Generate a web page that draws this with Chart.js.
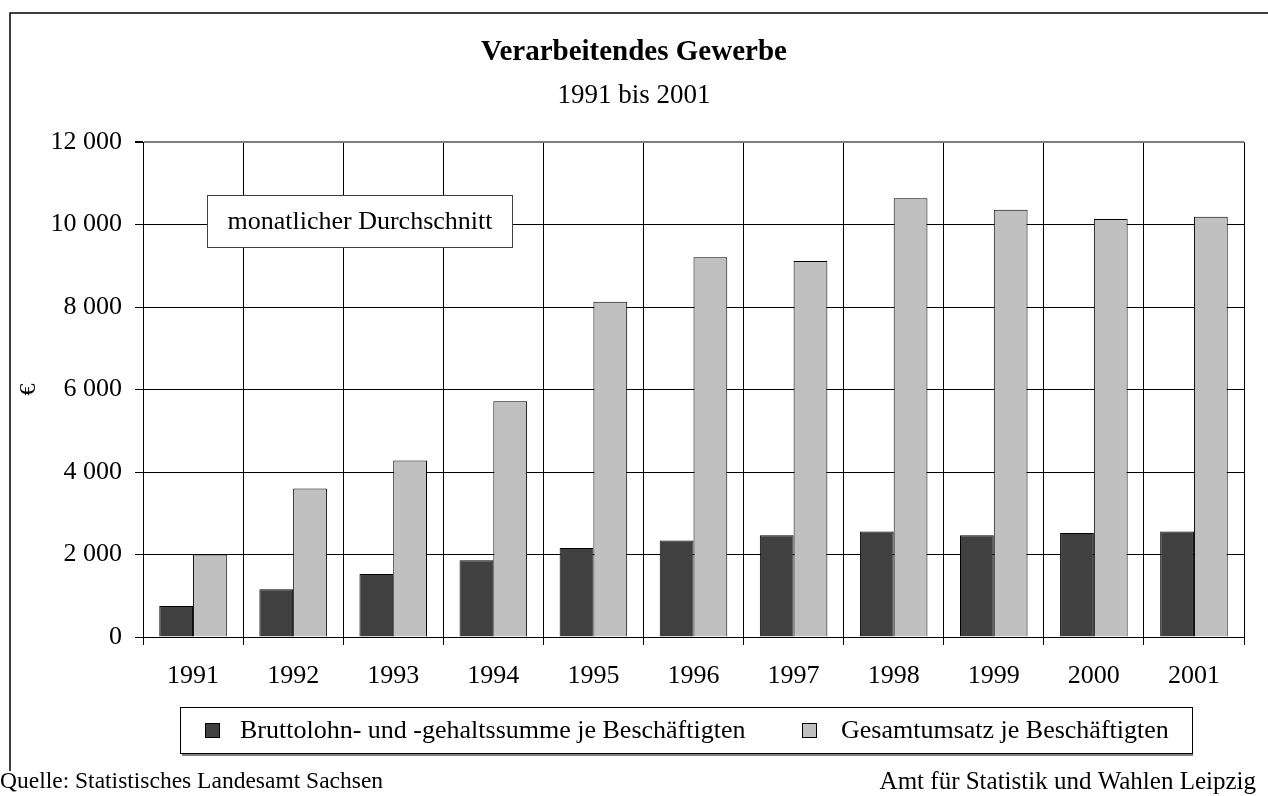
<!DOCTYPE html>
<html>
<head>
<meta charset="utf-8">
<script src="https://cdn.jsdelivr.net/npm/chart.js@4/dist/chart.umd.min.js"></script>
<style>
  html, body { margin: 0; padding: 0; background: #fff; }
  #wrap { width: 1268px; height: 796px; }
</style>
</head>
<body>
<div id="wrap"><canvas id="chart" width="1268" height="796"></canvas></div>
<script>
// Werte (Euro, monatlicher Durchschnitt)
const years = ['1991', '1992', '1993', '1994', '1995', '1996', '1997', '1998', '1999', '2000', '2001'];
const bruttolohn = [750, 1160, 1530, 1860, 2160, 2340, 2470, 2560, 2470, 2520, 2560];
const umsatz = [2000, 3600, 4280, 5720, 8130, 9210, 9120, 10640, 10360, 10140, 10190];
const yTicks = [0, 2000, 4000, 6000, 8000, 10000, 12000];

const serif = "'Liberation Serif', 'Times New Roman', serif";

function fmt(v) {
    return String(v).replace(/\B(?=(\d{3})+(?!\d))/g, ' ');
}

// Rahmen, Textfeld, Legende und Quellenzeile
const extras = {
    id: 'extras',
    afterDraw(chart) {
        const ctx = chart.ctx;
        ctx.save();

        // äußerer Rahmen (rechts und unten abgeschnitten)
        ctx.strokeStyle = '#000';
        ctx.lineWidth = 1.5;
        ctx.beginPath();
        ctx.moveTo(10, 771);
        ctx.lineTo(10, 13);
        ctx.lineTo(1268, 13);
        ctx.stroke();

        // Textfeld im Diagramm
        ctx.fillStyle = '#fff';
        ctx.fillRect(207, 195, 305, 52);
        ctx.strokeStyle = '#404040';
        ctx.lineWidth = 1;
        ctx.strokeRect(207.5, 195.5, 305, 52);
        ctx.fillStyle = '#000';
        ctx.font = '26px ' + serif;
        ctx.textAlign = 'center';
        ctx.textBaseline = 'middle';
        ctx.fillText('monatlicher Durchschnitt', 360, 222);

        // Legende
        ctx.fillStyle = '#808080';
        ctx.fillRect(182, 753, 1011, 3);
        ctx.fillStyle = '#fff';
        ctx.fillRect(180, 707, 1012, 46);
        ctx.strokeStyle = '#000';
        ctx.strokeRect(180.5, 707.5, 1012, 46);
        const items = [
            { x: 205, tx: 240 },
            { x: 802, tx: 841 }
        ];
        chart.data.datasets.forEach((ds, i) => {
            const it = items[i];
            ctx.fillStyle = ds.backgroundColor;
            ctx.fillRect(it.x, 723, 14, 14);
            ctx.strokeStyle = '#000';
            ctx.strokeRect(it.x + 0.5, 723.5, 14, 14);
            ctx.fillStyle = '#000';
            ctx.textAlign = 'left';
            ctx.fillText(ds.label, it.tx, 731);
        });

        // Quellenzeile
        ctx.font = '23.5px ' + serif;
        ctx.textAlign = 'left';
        ctx.fillText('Quelle: Statistisches Landesamt Sachsen', 0, 782);
        ctx.font = '25px ' + serif;
        ctx.textAlign = 'right';
        ctx.fillText('Amt für Statistik und Wahlen Leipzig', 1256, 782);

        ctx.restore();
    }
};

new Chart(document.getElementById('chart'), {
    type: 'bar',
    data: {
        labels: years,
        datasets: [
            {
                label: 'Bruttolohn- und -gehaltssumme je Beschäftigten',
                data: bruttolohn,
                backgroundColor: '#404040',
                borderColor: '#000',
                borderWidth: 1
            },
            {
                label: 'Gesamtumsatz je Beschäftigten',
                data: umsatz,
                backgroundColor: '#c0c0c0',
                borderColor: '#000',
                borderWidth: 1
            }
        ]
    },
    options: {
        responsive: false,
        animation: false,
        devicePixelRatio: 1,
        layout: { padding: { left: 0, right: 0, top: 0, bottom: 104 } },
        datasets: {
            bar: { categoryPercentage: 0.675, barPercentage: 1.0 }
        },
        plugins: {
            legend: { display: false },
            tooltip: { enabled: false },
            title: {
                display: true,
                text: 'Verarbeitendes Gewerbe',
                color: '#000',
                font: { family: serif, size: 29, weight: 'bold' },
                padding: { top: 35, bottom: 10 }
            },
            subtitle: {
                display: true,
                text: '1991 bis 2001',
                color: '#000',
                font: { family: serif, size: 27 },
                padding: { top: 0, bottom: 30 }
            }
        },
        scales: {
            x: {
                grid: {
                    offset: true,
                    color: c => c.index === years.length ? '#808080' : '#000',
                    lineWidth: c => c.index === years.length ? 2 : 1,
                    tickColor: '#000',
                    tickLength: 8
                },
                border: { color: '#000', width: 1 },
                ticks: {
                    color: '#000',
                    font: { family: serif, size: 26 },
                    padding: 16,
                    maxRotation: 0
                },
                afterFit: s => { s.height = 55; }
            },
            y: {
                min: 0,
                max: 12000,
                afterBuildTicks: s => { s.ticks = yTicks.map(v => ({ value: v })); },
                grid: {
                    color: c => c.tick && c.tick.value === 12000 ? '#808080' : '#000',
                    lineWidth: c => c.tick && c.tick.value === 12000 ? 2 : 1,
                    tickColor: '#000',
                    tickLength: 8
                },
                border: { color: '#000', width: 1 },
                ticks: {
                    color: '#000',
                    font: { family: serif, size: 26 },
                    padding: 13,
                    callback: v => fmt(v)
                },
                title: {
                    display: true,
                    text: '€',
                    color: '#000',
                    font: { family: serif, size: 24 },
                    padding: { top: 14, bottom: 0 }
                },
                afterFit: s => { s.width = 143; }
            },
            // leerer Rand rechts, damit der Titel über der ganzen Breite zentriert bleibt
            rand: {
                position: 'right',
                grid: { display: false, drawTicks: false },
                border: { display: false },
                ticks: { display: false },
                afterFit: s => { s.width = 24; }
            }
        }
    },
    plugins: [extras]
});
</script>
</body>
</html>
